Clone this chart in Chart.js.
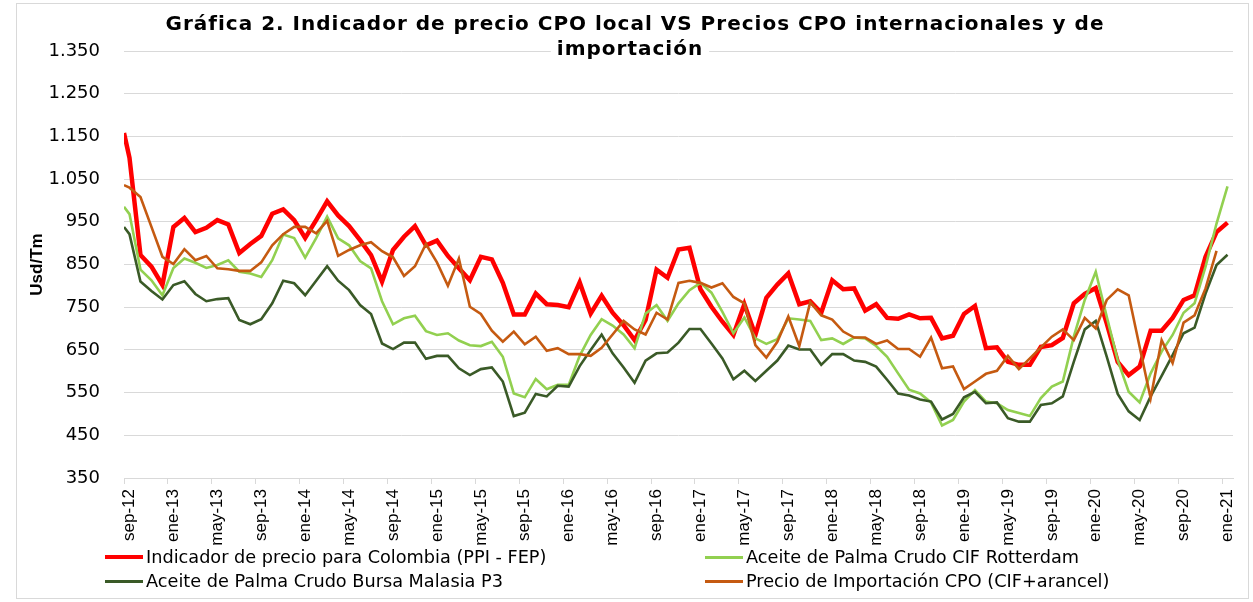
<!DOCTYPE html>
<html lang="es">
<head>
<meta charset="utf-8">
<title>Gráfica 2. Indicador de precio CPO local VS Precios CPO internacionales y de importación</title>
<script src="https://cdn.jsdelivr.net/npm/chart.js@4.4.1/dist/chart.umd.min.js"></script>
<style>
  html, body { margin: 0; padding: 0; background: #fff; }
  #wrap { position: relative; width: 1253px; height: 602px; }
  #grafica { position: absolute; left: 0; top: 0; }
  #marco { position: absolute; left: 16px; top: 3px; width: 1231px; height: 594px; border: 1px solid #d9d9d9; pointer-events: none; }
  .item { position: absolute; height: 24px; display: flex; align-items: center; white-space: nowrap;
          font: 17.7px 'DejaVu Sans', sans-serif; color: #000; }
  .muestra { width: 38px; margin-right: 3px; }
</style>
</head>
<body>
<div id="wrap">
  <canvas id="grafica" width="1253" height="602"></canvas>
  <div id="marco"></div>
  <div id="leyenda"></div>
</div>
<script>
const titulo = ['Gráfica 2. Indicador de precio CPO local VS Precios CPO internacionales y de', 'importación'];

// one label every 4 months, sep-12 ... ene-21 (101 monthly points)
const etiquetas = ['sep-12', 'ene-13', 'may-13', 'sep-13', 'ene-14', 'may-14', 'sep-14', 'ene-15', 'may-15',
  'sep-15', 'ene-16', 'may-16', 'sep-16', 'ene-17', 'may-17', 'sep-17', 'ene-18', 'may-18', 'sep-18',
  'ene-19', 'may-19', 'sep-19', 'ene-20', 'may-20', 'sep-20', 'ene-21'];

// first value of each series sits on the left edge of the axis, the rest are the monthly points
const indicadorColombia = [1158,
  1100, 872, 845, 802, 938, 959, 926, 936, 954, 944,
  877, 898, 917, 969, 979, 954, 912, 954, 998, 965,
  940, 907, 872, 810, 884, 915, 940, 895, 906, 870,
  841, 813, 868, 862, 807, 733, 733, 782, 757, 755,
  750, 808, 735, 777, 737, 708, 673, 720, 838, 819,
  885, 889, 792, 751, 716, 685, 757, 685, 772, 803,
  829, 757, 764, 737, 813, 792, 794, 742, 757, 725,
  723, 733, 724, 725, 677, 683, 734, 753, 654, 656,
  622, 615, 615, 657, 661, 678, 759, 781, 795, 712,
  622, 591, 611, 695, 695, 725, 767, 778, 868, 926,
  948];

const cifRotterdam = [985,
  968, 838, 813, 778, 842, 864, 854, 842, 849, 860,
  833, 829, 821, 860, 920, 912, 866, 912, 962, 911,
  895, 858, 841, 764, 710, 724, 730, 694, 685, 689,
  672, 661, 659, 669, 634, 548, 539, 582, 558, 568,
  568, 636, 685, 722, 707, 686, 654, 735, 755, 718,
  759, 790, 807, 784, 739, 689, 726, 677, 664, 675,
  724, 721, 718, 673, 677, 664, 679, 677, 659, 634,
  595, 557, 548, 527, 473, 486, 529, 556, 529, 525,
  509, 502, 495, 537, 564, 576, 681, 767, 833, 728,
  626, 552, 527, 595, 646, 685, 737, 759, 845, 946,
  1033];

const bursaMalasia = [938,
  921, 810, 788, 768, 802, 811, 781, 764, 769, 771,
  720, 710, 722, 759, 812, 806, 778, 812, 846, 812,
  790, 755, 734, 665, 652, 667, 667, 629, 636, 636,
  607, 591, 605, 609, 576, 495, 503, 547, 541, 566,
  564, 612, 650, 686, 642, 609, 573, 625, 642, 644,
  667, 699, 699, 665, 630, 581, 601, 577, 601, 625,
  660, 651, 651, 615, 640, 640, 625, 622, 611, 580,
  548, 543, 534, 529, 487, 500, 539, 552, 525, 527,
  490, 482, 482, 521, 525, 541, 622, 698, 718, 634,
  547, 506, 486, 541, 589, 638, 689, 702, 782, 849,
  873];

const precioImportacion = [1036,
  1030, 1008, 938, 868, 851, 886, 860, 870, 841, 839,
  835, 835, 855, 895, 921, 938, 938, 923, 952, 870,
  884, 895, 902, 881, 867, 823, 846, 898, 855, 800,
  864, 751, 734, 695, 669, 693, 663, 681, 648, 654,
  640, 640, 636, 655, 686, 718, 698, 686, 737, 721,
  807, 812, 807, 796, 806, 774, 759, 661, 632, 669,
  728, 659, 762, 731, 721, 693, 679, 679, 664, 672,
  652, 652, 634, 679, 607, 611, 558, 576, 594, 601,
  636, 605, 630, 656, 681, 698, 673, 725, 700, 767,
  792, 778, 657, 537, 673, 619, 714, 731, 794, 882,
  null];

const colores = {
  rojo: '#ff0000',
  verdeClaro: '#92d050',
  verdeOscuro: '#3a5a27',
  naranja: '#c55a11',
  grid: '#d9d9d9',
};

// month index on a linear axis: edge point at -0.5, monthly points at 0..100
const puntos = (serie) => serie.map((v, j) => ({ x: j === 0 ? -0.5 : j - 1, y: v }));

const miles = (v) => (v >= 1000 ? Math.floor(v / 1000) + '.' + String(v % 1000).padStart(3, '0') : String(v));

const tituloPlugin = {
  id: 'titulo',
  afterDraw(chart) {
    const ctx = chart.ctx;
    ctx.save();
    ctx.font = 'bold 20px "DejaVu Sans", sans-serif';
    ctx.letterSpacing = '1px';
    ctx.textAlign = 'center';
    ctx.textBaseline = 'middle';
    const w2 = ctx.measureText(titulo[1]).width;
    ctx.fillStyle = '#fff';
    ctx.fillRect(630 - w2 / 2 - 6, 39, w2 + 12, 24);
    ctx.fillStyle = '#000';
    ctx.fillText(titulo[0], 635, 25);
    ctx.fillText(titulo[1], 630, 50);
    ctx.restore();
  },
};

const serie = (label, data, color, width, order) => ({
  label,
  data: puntos(data),
  borderColor: color,
  backgroundColor: color,
  borderWidth: width,
  pointRadius: 0,
  tension: 0,
  spanGaps: false,
  order,
});

const chart = new Chart(document.getElementById('grafica'), {
  type: 'line',
  data: {
    datasets: [
      serie('Indicador de precio para Colombia (PPI - FEP)', indicadorColombia, colores.rojo, 4.5, 4),
      serie('Aceite de Palma Crudo CIF Rotterdam', cifRotterdam, colores.verdeClaro, 2.6, 3),
      serie('Aceite de Palma Crudo Bursa Malasia P3', bursaMalasia, colores.verdeOscuro, 2.6, 2),
      serie('Precio de Importación CPO (CIF+arancel)', precioImportacion, colores.naranja, 2.6, 1),
    ],
  },
  options: {
    responsive: false,
    animation: false,
    layout: { padding: { left: 27, top: 51, right: 20, bottom: 0 } },
    plugins: { legend: { display: false }, tooltip: { enabled: false } },
    scales: {
      x: {
        type: 'linear',
        min: -0.5,
        max: 100.5,
        afterBuildTicks: (s) => {
          s.ticks = etiquetas.map((_, j) => ({ value: -0.5 + 4 * j }));
        },
        afterFit: (s) => { s.height = 124; },
        ticks: {
          autoSkip: false,
          minRotation: 90,
          maxRotation: 90,
          labelOffset: 5.5,
          padding: 5,
          color: '#000',
          font: { family: "'Liberation Sans', Arial, sans-serif", size: 17 },
          callback: (v, i) => etiquetas[i],
        },
        grid: { drawOnChartArea: false, color: colores.grid, tickLength: 6 },
        border: { color: colores.grid },
      },
      y: {
        min: 350,
        max: 1350,
        afterFit: (s) => { s.width = 97; },
        ticks: {
          stepSize: 100,
          padding: 24,
          color: '#000',
          font: { family: "'DejaVu Sans', sans-serif", size: 18 },
          callback: (v) => miles(v),
        },
        grid: { color: colores.grid, drawTicks: false },
        border: { display: false },
        title: {
          display: true,
          text: 'Usd/Tm',
          color: '#000',
          padding: 0,
          font: { family: "'Liberation Sans Narrow', 'Liberation Sans', sans-serif", size: 17, weight: 'bold' },
        },
      },
    },
  },
  plugins: [tituloPlugin],
});

// legend in two columns like the original
const leyenda = document.getElementById('leyenda');
const posiciones = [[105, 545], [705, 545], [105, 569], [705, 569]];
chart.data.datasets.forEach((ds, i) => {
  const item = document.createElement('div');
  item.className = 'item';
  item.style.left = posiciones[i][0] + 'px';
  item.style.top = posiciones[i][1] + 'px';
  const muestra = document.createElement('span');
  muestra.className = 'muestra';
  muestra.style.height = (i === 0 ? 4 : 3) + 'px';
  muestra.style.background = ds.borderColor;
  const texto = document.createElement('span');
  texto.textContent = ds.label;
  item.append(muestra, texto);
  leyenda.appendChild(item);
});
</script>
</body>
</html>
